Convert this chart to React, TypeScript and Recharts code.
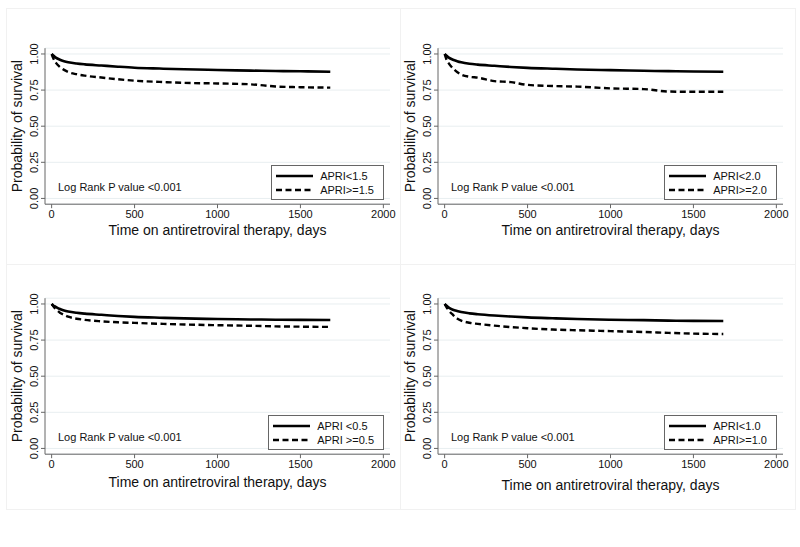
import React from 'react';
import { LineChart, Line, XAxis, YAxis, CartesianGrid, Legend } from 'recharts';

// time on ART (days) shared by every curve
const days = [0, 10, 25, 50, 75, 100, 150, 200, 300, 400, 500, 650, 800, 1000, 1200, 1350, 1500, 1680];

// survival probabilities
const apriBelow15 = [1.0, 0.99, 0.975, 0.96, 0.95, 0.943, 0.934, 0.928, 0.92, 0.912, 0.905, 0.899, 0.894, 0.889, 0.885, 0.882, 0.88, 0.877];
const apriAbove15 = [1.0, 0.97, 0.94, 0.91, 0.89, 0.875, 0.86, 0.85, 0.837, 0.825, 0.815, 0.807, 0.8, 0.796, 0.79, 0.775, 0.77, 0.767];

const apriBelow20 = [1.0, 0.99, 0.975, 0.96, 0.95, 0.942, 0.932, 0.926, 0.918, 0.91, 0.904, 0.898, 0.893, 0.888, 0.884, 0.881, 0.879, 0.877];
const apriAbove20 = [1.0, 0.965, 0.935, 0.9, 0.875, 0.857, 0.842, 0.836, 0.812, 0.805, 0.786, 0.778, 0.774, 0.762, 0.757, 0.74, 0.738, 0.738];

const apriBelow05 = [1.0, 0.99, 0.98, 0.965, 0.955, 0.948, 0.939, 0.933, 0.925, 0.917, 0.911, 0.905, 0.9, 0.896, 0.893, 0.891, 0.89, 0.889];
const apriAbove05 = [1.0, 0.985, 0.965, 0.94, 0.925, 0.912, 0.898, 0.89, 0.88, 0.873, 0.869, 0.863, 0.858, 0.853, 0.849, 0.845, 0.843, 0.841];

const apriBelow10 = [1.0, 0.99, 0.975, 0.96, 0.951, 0.944, 0.935, 0.929, 0.92, 0.913, 0.907, 0.901, 0.896, 0.891, 0.888, 0.885, 0.883, 0.882];
const apriAbove10 = [1.0, 0.98, 0.955, 0.925, 0.9, 0.885, 0.87, 0.862, 0.85, 0.84, 0.832, 0.823, 0.818, 0.812, 0.806, 0.8, 0.795, 0.792];

const xTicks = [0, 500, 1000, 1500, 2000];
const yTicks = [0, 0.25, 0.5, 0.75, 1];
const xTitle = 'Time on antiretroviral therapy, days';
const yTitle = 'Probability of survival';
const pValueText = 'Log Rank P value <0.001';
const DASH = '6 3.5';

type PanelProps = {
  low: number[];
  high: number[];
  lowName: string;
  highName: string;
  left: number;
  top: number;
  height: number;
  marginTop: number;
  marginBottom: number;
  titleGap: number;
};

const YTick = (props: any) => {
  const { x, y, payload } = props;
  return (
    <text x={x - 1} y={y} transform={`rotate(-90, ${x - 1}, ${y})`} textAnchor="middle" fontSize={11} fill="#111">
      {Number(payload.value).toFixed(2)}
    </text>
  );
};

const LegendBox = ({ lowName, highName }: { lowName: string; highName: string }) => {
  const row = (name: string, dash?: string) => (
    <div style={{ display: 'flex', alignItems: 'center', height: 14 }}>
      <svg width={37} height={6} style={{ display: 'block' }}>
        <line x1={0} y1={3} x2={37} y2={3} stroke="#000" strokeWidth={2.5} strokeDasharray={dash} />
      </svg>
      <span style={{ marginLeft: 7, fontSize: 11, color: '#111', whiteSpace: 'nowrap' }}>{name}</span>
    </div>
  );
  return (
    <div style={{ position: 'relative', width: 345, height: 42 }}>
      <span style={{ position: 'absolute', left: 13, top: 19, fontSize: 11, lineHeight: '13px', color: '#111', whiteSpace: 'nowrap' }}>
        {pValueText}
      </span>
      <div
        style={{
          position: 'absolute',
          right: 6,
          bottom: 4,
          height: 35,
          boxSizing: 'border-box',
          border: '1px solid #666',
          background: '#fff',
          padding: '3px 9px 3px 4px',
        }}
      >
        {row(lowName)}
        {row(highName, DASH)}
      </div>
    </div>
  );
};

const SurvivalPanel = ({ low, high, lowName, highName, left, top, height, marginTop, marginBottom, titleGap }: PanelProps) => {
  const data = days.map((d, i) => ({ day: d, low: low[i], high: high[i] }));
  const plotBottom = height - marginBottom - 50;
  return (
    <div style={{ position: 'absolute', left, top }}>
      <LineChart width={400} height={height} data={data} margin={{ top: marginTop, right: 10, bottom: marginBottom, left: 0 }}>
        <CartesianGrid horizontal vertical={false} stroke="#e8eef0" />
        <XAxis
          type="number"
          dataKey="day"
          domain={[-40, 2040]}
          ticks={xTicks}
          height={50}
          tickSize={4}
          stroke="#666"
          tick={{ fill: '#111', fontSize: 11 }}
          label={{
            content: (p: any) => {
              const vb = p.viewBox;
              return (
                <text x={vb.x + vb.width / 2} y={vb.y + titleGap} textAnchor="middle" fontSize={14} fill="#111">
                  {xTitle}
                </text>
              );
            },
          }}
        />
        <YAxis
          type="number"
          domain={[-0.04, 1.04]}
          ticks={yTicks}
          width={45}
          tickSize={4}
          stroke="#666"
          tick={<YTick />}
          label={{
            content: (p: any) => {
              const vb = p.viewBox;
              const cx = vb.x + vb.width - 23;
              const cy = vb.y + vb.height / 2;
              return (
                <text x={cx} y={cy} transform={`rotate(-90, ${cx}, ${cy})`} textAnchor="middle" fontSize={14} fill="#111">
                  {yTitle}
                </text>
              );
            },
          }}
        />
        <Line type="monotone" dataKey="low" name={lowName} stroke="#000" strokeWidth={2.6} dot={false} activeDot={false} isAnimationActive={false} />
        <Line type="monotone" dataKey="high" name={highName} stroke="#000" strokeWidth={2.4} strokeDasharray={DASH} dot={false} activeDot={false} isAnimationActive={false} />
        <Legend
          layout="vertical"
          align="center"
          verticalAlign="middle"
          wrapperStyle={{ left: 45, top: plotBottom - 42, width: 345, height: 42 }}
          content={() => <LegendBox lowName={lowName} highName={highName} />}
        />
      </LineChart>
    </div>
  );
};

const App = () => {
  const frame = '1px solid #f1f1f1';
  return (
    <div
      style={{
        position: 'absolute',
        left: 0,
        top: 0,
        width: 800,
        height: 547,
        background: '#fff',
        fontFamily: '"Liberation Sans", Arial, Helvetica, sans-serif',
      }}
    >
      <div style={{ position: 'absolute', left: 6, top: 8, width: 790, height: 502, border: frame, boxSizing: 'border-box' }} />
      <div style={{ position: 'absolute', left: 400, top: 8, width: 1, height: 502, borderLeft: frame }} />
      <div style={{ position: 'absolute', left: 6, top: 264, width: 790, height: 1, borderTop: frame }} />

      <SurvivalPanel low={apriBelow15} high={apriAbove15} lowName="APRI<1.5" highName="APRI>=1.5"
        left={0} top={0} height={264} marginTop={48.2} marginBottom={9.8} titleGap={31} />
      <SurvivalPanel low={apriBelow20} high={apriAbove20} lowName="APRI<2.0" highName="APRI>=2.0"
        left={393} top={0} height={264} marginTop={48.2} marginBottom={9.8} titleGap={31} />
      <SurvivalPanel low={apriBelow05} high={apriAbove05} lowName="APRI <0.5" highName="APRI >=0.5"
        left={0} top={264} height={283} marginTop={34.2} marginBottom={42.8} titleGap={32.5} />
      <SurvivalPanel low={apriBelow10} high={apriAbove10} lowName="APRI<1.0" highName="APRI>=1.0"
        left={393} top={264} height={283} marginTop={34.2} marginBottom={42.8} titleGap={35.5} />
    </div>
  );
};

export default App;
